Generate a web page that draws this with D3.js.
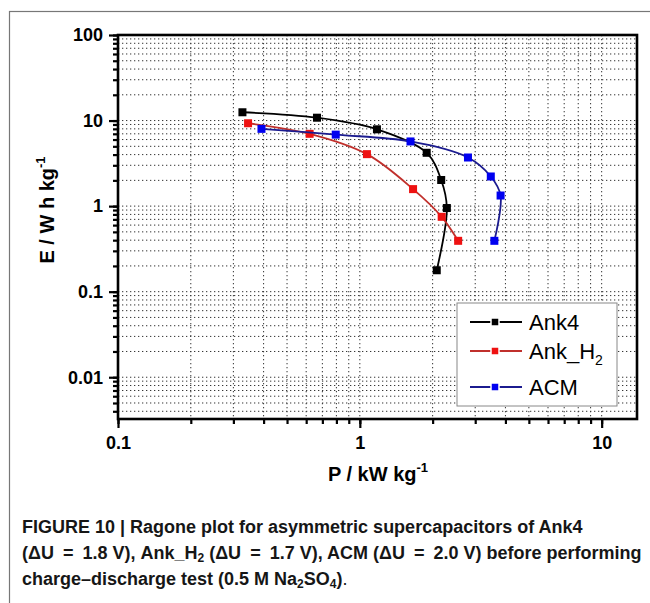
<!DOCTYPE html>
<html><head><meta charset="utf-8">
<script src="https://cdn.jsdelivr.net/npm/d3@7"></script>
<style>body{margin:0;background:#fff}</style></head>
<body><svg id="c" width="650" height="603"></svg>
<script>
// ---- data ----
const seriesNames = ["Ank4", "Ank_H2", "ACM"];
const ank4P  = [0.327, 0.665, 1.177, 1.89, 2.17, 2.29, 2.08];
const ank4E  = [12.5, 10.8, 7.9, 4.2, 2.02, 0.95, 0.178];
const ankH2P = [0.345, 0.62, 1.07, 1.66, 2.18, 2.55];
const ankH2E = [9.3, 7.0, 4.05, 1.58, 0.75, 0.393];
const acmP   = [0.392, 0.795, 1.62, 2.8, 3.48, 3.82, 3.6];
const acmE   = [8.0, 6.85, 5.7, 3.7, 2.22, 1.33, 0.393];
const xTickLabels = [0.1, 1, 10];
const yTickLabels = [0.01, 0.1, 1, 10, 100];

const svg = d3.select("#c");
const L = 118, R = 637, T = 35, B = 419;
const x = d3.scaleLog().domain([0.1, 14]).range([L, R]);
const y = d3.scaleLog().domain([0.00325, 100]).range([B, T]);

function minors(dom, from, to) {
  const out = [];
  for (let e = from; e <= to; e++) for (let k = 1; k <= 9; k++) {
    const v = k * Math.pow(10, e);
    if (v >= dom[0] * 0.999 && v <= dom[1] * 1.001) out.push(+v.toPrecision(3));
  }
  return out;
}
const xMinor = minors(x.domain(), -1, 1);
const yMinor = minors(y.domain(), -3, 2);

// outer figure frame
svg.append("rect").attr("x", 9.5).attr("y", 11.5).attr("width", 660).attr("height", 620)
  .attr("fill", "none").attr("stroke", "#777").attr("stroke-width", 1.2);

// grid
const grid = svg.append("g").attr("stroke", "#333").attr("stroke-width", 1).attr("stroke-dasharray", "1.3,2.7");
grid.selectAll(".gx").data(xMinor).join("line")
  .attr("x1", d => x(d)).attr("x2", d => x(d)).attr("y1", T).attr("y2", B);
grid.selectAll(".gy").data(yMinor).join("line")
  .attr("y1", d => y(d)).attr("y2", d => y(d)).attr("x1", L).attr("x2", R);

// axes
const fontTick = "bold 18px 'Liberation Sans', Arial, sans-serif";
const gx = svg.append("g").attr("transform", `translate(0,${B})`);
gx.call(d3.axisBottom(x).tickValues(xMinor).tickSize(5).tickFormat(""));
gx.call(g => g.append("g").call(d3.axisBottom(x).tickValues(xTickLabels).tickSize(9).tickPadding(8).tickFormat(d3.format("~g"))));
gx.selectAll("path").remove();
gx.selectAll("line").attr("stroke", "#000").attr("stroke-width", 2.2);
gx.selectAll("text").style("font", fontTick).attr("fill", "#000");

const gy = svg.append("g").attr("transform", `translate(${L},0)`);
gy.call(d3.axisLeft(y).tickValues(yMinor).tickSize(5).tickFormat(""));
gy.call(g => g.append("g").call(d3.axisLeft(y).tickValues(yTickLabels).tickSize(9).tickPadding(6).tickFormat(d3.format("~g"))));
gy.selectAll("path").remove();
gy.selectAll("line").attr("stroke", "#000").attr("stroke-width", 2.2);
gy.selectAll("text").style("font", fontTick).attr("fill", "#000");

// frame
svg.append("rect").attr("x", L).attr("y", T).attr("width", R - L).attr("height", B - T)
  .attr("fill", "none").attr("stroke", "#000").attr("stroke-width", 2.6);

// series
const series = [
  {name: seriesNames[0], P: ank4P, E: ank4E, line: "#000000", mark: "#000000"},
  {name: seriesNames[1], P: ankH2P, E: ankH2E, line: "#c0302c", mark: "#ee1111"},
  {name: seriesNames[2], P: acmP, E: acmE, line: "#1b1b8f", mark: "#0000f0"}
];
const lineGen = d3.line().x(d => x(d[0])).y(d => y(d[1])).curve(d3.curveCatmullRom.alpha(0.5));
series.forEach(s => {
  const pts = s.P.map((p, i) => [p, s.E[i]]);
  svg.append("path").attr("d", lineGen(pts)).attr("fill", "none")
    .attr("stroke", s.line).attr("stroke-width", 1.8);
  svg.selectAll(null).data(pts).join("rect")
    .attr("x", d => x(d[0]) - 4).attr("y", d => y(d[1]) - 4)
    .attr("width", 8).attr("height", 8).attr("fill", s.mark);
});

// legend
const lg = svg.append("g");
lg.append("rect").attr("x", 457).attr("y", 303).attr("width", 160).attr("height", 103)
  .attr("fill", "#fff").attr("stroke", "#888").attr("stroke-width", 1);
const ly = [322, 351, 387];
series.forEach((s, i) => {
  lg.append("line").attr("x1", 470).attr("x2", 522).attr("y1", ly[i]).attr("y2", ly[i])
    .attr("stroke", s.line).attr("stroke-width", 1.8);
  lg.append("rect").attr("x", 491).attr("y", ly[i] - 4).attr("width", 8).attr("height", 8)
    .attr("fill", s.mark).attr("stroke", "#fff").attr("stroke-width", 1.5);
  const t = lg.append("text").attr("x", 529).attr("y", ly[i] + 8)
    .style("font", "22px 'Liberation Sans', Arial, sans-serif").attr("fill", "#000");
  if (s.name === "Ank_H2") {
    t.append("tspan").text("Ank_H");
    t.append("tspan").attr("dy", 6).style("font-size", "14px").text("2");
  } else t.text(s.name);
});

// axis titles
const fontTitle = "bold 20px 'Liberation Sans', Arial, sans-serif";
const xt = svg.append("text").attr("x", 378).attr("y", 481).attr("text-anchor", "middle")
  .style("font", fontTitle).attr("fill", "#000");
xt.append("tspan").text("P / kW kg");
xt.append("tspan").attr("dy", -9).style("font-size", "13px").text("-1");

const yt = svg.append("text").attr("transform", "translate(54,210) rotate(-90)").attr("text-anchor", "middle")
  .style("font", fontTitle).attr("fill", "#000");
yt.append("tspan").text("E / W h kg");
yt.append("tspan").attr("dy", -9).style("font-size", "13px").text("-1");

// caption
const cf = "bold 18px 'Liberation Sans', Arial, sans-serif";
const cap = svg.append("g").style("font", cf).attr("fill", "#161616");
cap.append("text").attr("x", 22).attr("y", 533)
  .text("FIGURE 10 | Ragone plot for asymmetric supercapacitors of Ank4");
const c2 = cap.append("text").attr("x", 22).attr("y", 559);
const eq = (t) => c2.append("tspan").style("word-spacing", "4px").text(t);
c2.append("tspan").text("(ΔU");
eq(" = ");
c2.append("tspan").text("1.8 V), Ank_H");
c2.append("tspan").attr("dy", 3).style("font-size", "12px").text("2");
c2.append("tspan").attr("dy", -3).text(" (ΔU");
eq(" = ");
c2.append("tspan").text("1.7 V), ACM (ΔU");
eq(" = ");
c2.append("tspan").text("2.0 V) before performing");
const c3 = cap.append("text").attr("x", 22).attr("y", 585);
c3.append("tspan").text("charge–discharge test (0.5 M Na");
c3.append("tspan").attr("dy", 3).style("font-size", "12px").text("2");
c3.append("tspan").attr("dy", -3).text("SO");
c3.append("tspan").attr("dy", 3).style("font-size", "12px").text("4");
c3.append("tspan").attr("dy", -3).text(")");
c3.append("tspan").style("font-weight", "normal").text(".");
</script></body></html>
